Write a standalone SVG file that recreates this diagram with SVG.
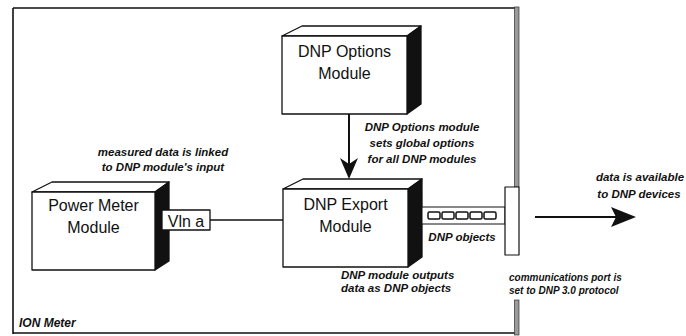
<svg xmlns="http://www.w3.org/2000/svg" width="686" height="336" viewBox="0 0 686 336">
<style>
.face{fill:#fff;stroke:#111;stroke-width:1.3;stroke-linejoin:round}
.side{fill:#111;stroke:#111;stroke-width:1.3;stroke-linejoin:round}
.title{font-family:"Liberation Sans",Arial,sans-serif;font-size:16px;fill:#111;text-anchor:middle}
.note{font-family:"Liberation Sans",Arial,sans-serif;font-size:11.5px;font-weight:bold;font-style:italic;fill:#111}
.small{font-size:10px}
.mid{text-anchor:middle}
.line{stroke:#111;stroke-width:1.6;fill:none}
.band{fill:#9a9a9a;stroke:#333;stroke-width:0.7}
</style>
<g id="frame">
<path class="line" d="M13,8 H515 M13,8 V334 M13,333 H515"/>
<rect class="band" x="514.5" y="7" width="4.5" height="180"/>
<rect class="band" x="514.5" y="300" width="4.5" height="35"/>
<text class="note" x="19" y="327" style="font-size:12px">ION Meter</text>
</g>
<g id="options-module">
<polygon class="face" points="282,36 302,26 421,26 407,36"/>
<polygon class="side" points="407,36 421,26 421,104 407,114"/>
<rect class="face" x="282" y="36" width="125" height="78"/>
<text class="title" x="344.5" y="57">DNP Options</text>
<text class="title" x="344.5" y="79">Module</text>
</g>
<g id="power-meter-module">
<polygon class="face" points="32,192 52,182 169,182 155,192"/>
<polygon class="side" points="155,192 169,182 169,261 155,270"/>
<rect class="face" x="32" y="192" width="123" height="78"/>
<text class="title" x="93.5" y="211">Power Meter</text>
<text class="title" x="93.5" y="233">Module</text>
</g>
<g id="vln-a">
<rect class="face" x="162" y="210" width="48" height="20"/>
<text class="title" x="186" y="226.5">Vln a</text>
</g>
<g id="export-module">
<polygon class="face" points="283,189 303,179 422,179 408,189"/>
<polygon class="side" points="408,189 422,179 422,257 408,267"/>
<rect class="face" x="283" y="189" width="125" height="78"/>
<text class="title" x="345.5" y="210">DNP Export</text>
<text class="title" x="345.5" y="232">Module</text>
</g>
<g id="dnp-objects">
<rect class="face" x="422" y="207" width="83" height="17" style="stroke-width:1"/>
<rect class="face" x="428" y="212" width="12" height="7" rx="1.5" style="stroke-width:1.5"/>
<rect class="face" x="442" y="212" width="12" height="7" rx="1.5" style="stroke-width:1.5"/>
<rect class="face" x="456" y="212" width="12" height="7" rx="1.5" style="stroke-width:1.5"/>
<rect class="face" x="470" y="212" width="12" height="7" rx="1.5" style="stroke-width:1.5"/>
<rect class="face" x="484" y="212" width="12" height="7" rx="1.5" style="stroke-width:1.5"/>
<text class="note mid" x="462" y="241">DNP objects</text>
</g>
<g id="comm-port">
<rect class="face" x="505" y="187" width="14" height="68" style="stroke-width:1.2"/>
</g>
<g id="connectors">
<line class="line" x1="210" y1="220" x2="283" y2="220"/>
<line class="line" x1="349" y1="114" x2="349" y2="164" style="stroke-width:2"/>
<polygon points="340,158 349,164 358,158 349,179" fill="#111"/>
<line class="line" x1="535" y1="217" x2="616" y2="217" style="stroke-width:2"/>
<polygon points="611,207 636,217 611,227 616,217" fill="#111"/>
</g>
<g id="labels">
<text class="note mid" x="163" y="156">measured data is linked</text>
<text class="note mid" x="163" y="171">to DNP module's input</text>
<text class="note mid" x="422" y="131">DNP Options module</text>
<text class="note mid" x="422" y="147">sets global options</text>
<text class="note mid" x="422" y="163">for all DNP modules</text>
<text class="note" x="341" y="279">DNP module outputs</text>
<text class="note" x="341" y="292">data as DNP objects</text>
<text class="note small" x="509" y="281">communications port is</text>
<text class="note small" x="509" y="294">set to DNP 3.0 protocol</text>
<text class="note mid" x="640" y="181">data is available</text>
<text class="note mid" x="639" y="198">to DNP devices</text>
</g>
</svg>
